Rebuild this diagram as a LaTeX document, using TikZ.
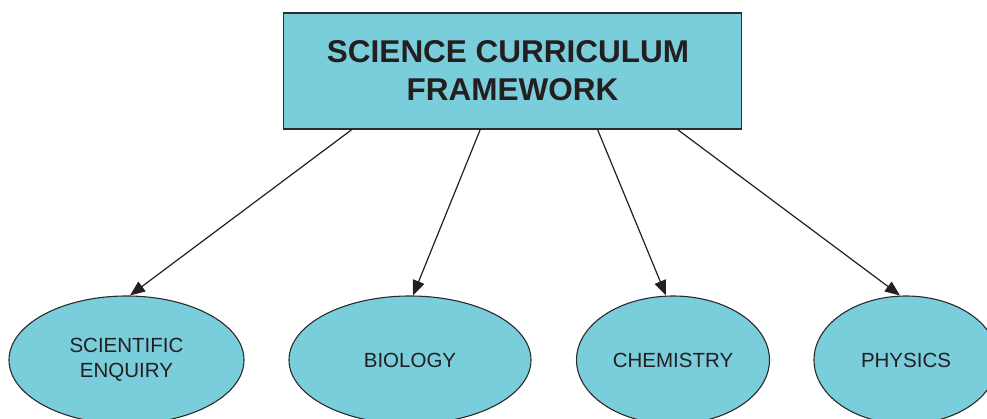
\documentclass[tikz,border=0pt]{standalone}
\usepackage{fontspec}
\setmainfont{Liberation Sans}
\usetikzlibrary{shapes.geometric,arrows.meta}
\definecolor{fillc}{HTML}{7ACDDB}
\definecolor{txt}{HTML}{231F20}
\definecolor{edge}{HTML}{2B2B2B}
\begin{document}
\begin{tikzpicture}[x=1pt,y=-1pt,
  topbox/.style={draw=edge,line width=1.1pt,fill=fillc,minimum width=458pt,minimum height=116pt,inner sep=0pt,
    align=center,text=txt,font=\fontsize{31.5}{38}\selectfont\bfseries},
  topic/.style={ellipse,draw=edge,line width=1.1pt,fill=fillc,inner sep=0pt,minimum height=128pt,
    align=center,text=txt,font=\fontsize{20.5}{25}\selectfont},
  link/.style={draw=txt,line width=1.2pt,-{Triangle[length=15pt,width=12pt]}}]
\useasboundingbox (0,0) rectangle (987,419);
\node[topbox] (fw) at (512.6,71) {SCIENCE CURRICULUM\hspace*{9pt}\\FRAMEWORK};
\node[topic,minimum width=235pt] (se) at (126.5,360) {SCIENTIFIC\\ENQUIRY};
\node[topic,minimum width=242pt] (bio) at (410,360) {BIOLOGY};
\node[topic,minimum width=193pt] (chem) at (673,360) {CHEMISTRY};
\node[topic,minimum width=184pt] (phys) at (906,360) {PHYSICS};
\coordinate (a1) at ([xshift=68.8pt]fw.south west);
\coordinate (a2) at ([xshift=197.2pt]fw.south west);
\coordinate (a3) at ([xshift=314.5pt]fw.south west);
\coordinate (a4) at ([xshift=394.5pt]fw.south west);
\draw[link] (a1) -- ([xshift=3.5pt]se.north);
\draw[link] (a2) -- ([xshift=3pt]bio.north);
\draw[link] (a3) -- ([xshift=-7pt]chem.north);
\draw[link] (a4) -- ([xshift=-6pt]phys.north);
\end{tikzpicture}
\end{document}
